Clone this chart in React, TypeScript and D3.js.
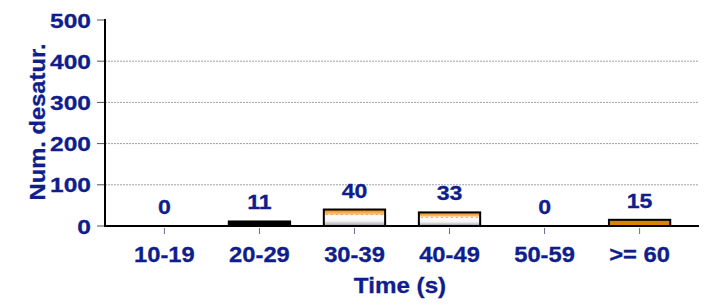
import React from "react";
import * as d3 from "d3";

const categories = ["10-19", "20-29", "30-39", "40-49", "50-59", ">= 60"];
const values = [0, 11, 40, 33, 0, 15];
const barStyles = ["none", "black", "striped", "striped", "none", "orange"];
const yTicks = [0, 100, 200, 300, 400, 500];

const W = 708;
const H = 304;
const TEXT = "#0f1e8c";
const FONT = "'Liberation Sans', Arial, sans-serif";

function SText(props: {
  x: number;
  y: number;
  sx: number;
  size: number;
  anchor: string;
  rotate?: number;
  dy?: string;
  children: React.ReactNode;
}) {
  const { x, y, sx, size, anchor, rotate, dy, children } = props;
  return (
    <g transform={`translate(${x},${y}) rotate(${rotate || 0}) scale(${sx},1)`}>
      <text
        x={0}
        y={0}
        dy={dy}
        textAnchor={anchor}
        fontSize={size}
        fontWeight="bold"
        fill={TEXT}
        stroke={TEXT}
        strokeWidth={0.3}
      >
        {children}
      </text>
    </g>
  );
}

export default function App() {
  const x = d3
    .scaleBand<string>()
    .domain(categories)
    .range([105, 699])
    .paddingInner(0)
    .paddingOuter(0.125);
  const y = d3.scaleLinear().domain([0, 500]).range([226, 20]);
  const bw = x.bandwidth() * 0.645;

  return (
    <svg
      width={W}
      height={H}
      style={{ position: "absolute", left: 0, top: 0, background: "#fff" }}
      fontFamily={FONT}
    >
      <defs>
        <linearGradient id="stripeGrad" x1="0" y1="0" x2="0" y2="1">
          <stop offset="0" stopColor="#f08a00" />
          <stop offset="0.22" stopColor="#f8b060" />
          <stop offset="0.38" stopColor="#ffffff" />
          <stop offset="0.7" stopColor="#f4f4f4" />
          <stop offset="1" stopColor="#9a9aa8" />
        </linearGradient>
      </defs>
      {yTicks
        .filter((t) => t > 0 && t < 500)
        .map((t) => (
          <line
            key={"g" + t}
            x1={105}
            x2={699}
            y1={y(t)}
            y2={y(t)}
            stroke="#a0a0a0"
            strokeWidth={1}
            strokeDasharray="2,1"
          />
        ))}
      {yTicks.map((t) => (
        <g key={"yt" + t}>
          <line x1={97} x2={105} y1={y(t)} y2={y(t)} stroke="#555" strokeWidth={1} />
          <SText x={91} y={y(t)} sx={1.17} size={21} anchor="end" dy="0.36em">
            {t}
          </SText>
        </g>
      ))}
      {categories.map((c, i) => {
        const v = values[i];
        const style = barStyles[i];
        if (v <= 0) return null;
        const cx = (x(c) as number) + x.bandwidth() / 2;
        const top = y(v);
        const h = y(0) - top;
        let fill = "#000";
        if (style === "orange") fill = "#e08000";
        if (style === "striped") fill = "url(#stripeGrad)";
        return (
          <g key={"b" + c}>
            <rect
              x={cx - bw / 2}
              y={top}
              width={bw}
              height={h}
              fill={fill}
              stroke="#000"
              strokeWidth={2}
            />
            {style === "striped" && (
              <line
                x1={cx - bw / 2 + 2}
                x2={cx + bw / 2 - 2}
                y1={top + 5}
                y2={top + 5}
                stroke="#f0a040"
                strokeWidth={1}
                strokeDasharray="2,3"
              />
            )}
          </g>
        );
      })}
      {categories.map((c, i) => (
        <SText
          key={"v" + c}
          x={(x(c) as number) + x.bandwidth() / 2}
          y={y(values[i]) - 12}
          sx={1.1}
          size={21}
          anchor="middle"
        >
          {values[i]}
        </SText>
      ))}
      <line x1={105} x2={105} y1={19} y2={227} stroke="#000" strokeWidth={2} />
      <line x1={104} x2={699} y1={226} y2={226} stroke="#000" strokeWidth={2} />
      {categories.map((c) => {
        const cx = (x(c) as number) + x.bandwidth() / 2;
        return (
          <g key={"xt" + c}>
            <line x1={cx} x2={cx} y1={228} y2={234} stroke="#6a6a90" strokeWidth={1} />
            <SText x={cx} y={262} sx={1.08} size={22} anchor="middle">
              {c}
            </SText>
          </g>
        );
      })}
      <SText x={400} y={293} sx={1.1} size={22} anchor="middle">
        Time (s)
      </SText>
      <SText x={45} y={122} sx={1.08} size={22} anchor="middle" rotate={-90}>
        Num. desatur.
      </SText>
    </svg>
  );
}
